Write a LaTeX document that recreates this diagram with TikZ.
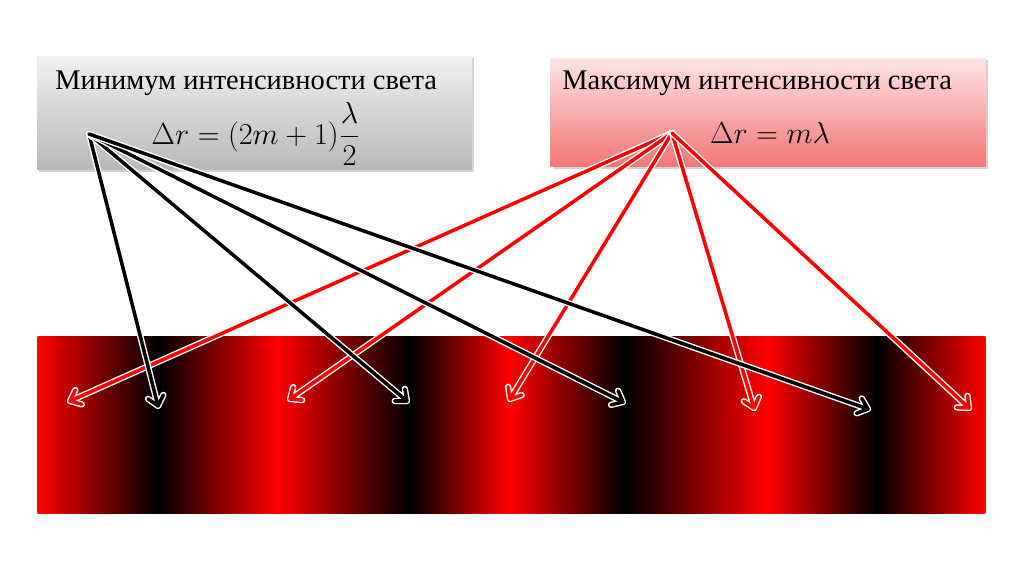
\documentclass[tikz,border=0pt]{standalone}
\usepackage{fontspec}
\setmainfont{Liberation Serif}
\usetikzlibrary{calc,shadows}

\definecolor{graytop}{HTML}{F0F0F0}
\definecolor{graybot}{HTML}{B8B8B8}
\definecolor{pinktop}{HTML}{FDE4E4}
\definecolor{pinkbot}{HTML}{F37676}

\tikzset{
  infobox/.style={draw=none, minimum width=8.7cm, drop shadow={opacity=0.35, shadow xshift=1.2pt, shadow yshift=-1.2pt}},
  glowline/.style={line cap=round, line join=round},
  title/.style={anchor=base west, inner sep=0pt, font=\fontsize{16.2}{19}\selectfont},
  formula/.style={font=\fontsize{16}{19}\selectfont}
}

\begin{document}
\begin{tikzpicture}[x=0.02cm, y=-0.02cm]
        \useasboundingbox (0,0) rectangle (1024,574);
        \fill[white] (0,0) rectangle (1024,574);
        % Interference band
        \foreach \xa/\xb/\ca/\cb in {38/158/red/black, 158/277/black/red, 277/410/red/black, 410/510/black/red,
                                    510/625/red/black, 625/767/black/red, 767/877/red/black, 877/985/black/red} {
            \shade[left color=\ca, right color=\cb] (\xa-0.4,336) rectangle (\xb+0.4,513);
        }
        % Boxes
        \node[infobox, minimum height=2.28cm, top color=graytop, bottom color=graybot] (minbox) at (254.5,113) {};
        \node[infobox, minimum height=2.18cm, top color=pinktop, bottom color=pinkbot] (maxbox) at (768,112.5) {};
        \node[title] (mintitle) at (55,90) {Минимум интенсивности света};
        \node[title] (maxtitle) at (562,90) {Максимум интенсивности света};
        \node[formula] (minformula) at (256,134) {$\displaystyle \Delta r=(2m+1)\frac{\lambda}{2}$};
        \node[formula] (maxformula) at (770,133) {$\Delta r=m\lambda$};
        % Sources and tips
        \coordinate (minsrc) at (89,134);
        \coordinate (maxsrc) at (672,133);
        \coordinate (tb1) at (158,406);
        \coordinate (tb2) at (407,401);
        \coordinate (tb3) at (623,402);
        \coordinate (tb4) at (868,409);
        \coordinate (tr1) at (70,401);
        \coordinate (tr2) at (290,399);
        \coordinate (tr3) at (510,399);
        \coordinate (tr4) at (754,408);
        \coordinate (tr5) at (969,408);
        % Arrows: white glow first, then the coloured line
        \foreach \t in {tr1,tr2,tr3,tr4,tr5} {
            \foreach \c/\w in {white/3.6pt, red/2pt}
                \draw[glowline, \c, line width=\w] (maxsrc) -- (\t)
                    ($(\t)!7pt!40:(maxsrc)$) -- (\t) -- ($(\t)!7pt!-40:(maxsrc)$);
        }
        \foreach \t in {tb1,tb2,tb3,tb4} {
            \foreach \c/\w in {white/3.6pt, black/2pt}
                \draw[glowline, \c, line width=\w] (minsrc) -- (\t)
                    ($(\t)!7pt!40:(minsrc)$) -- (\t) -- ($(\t)!7pt!-40:(minsrc)$);
        }
    \end{tikzpicture}
\end{document}
